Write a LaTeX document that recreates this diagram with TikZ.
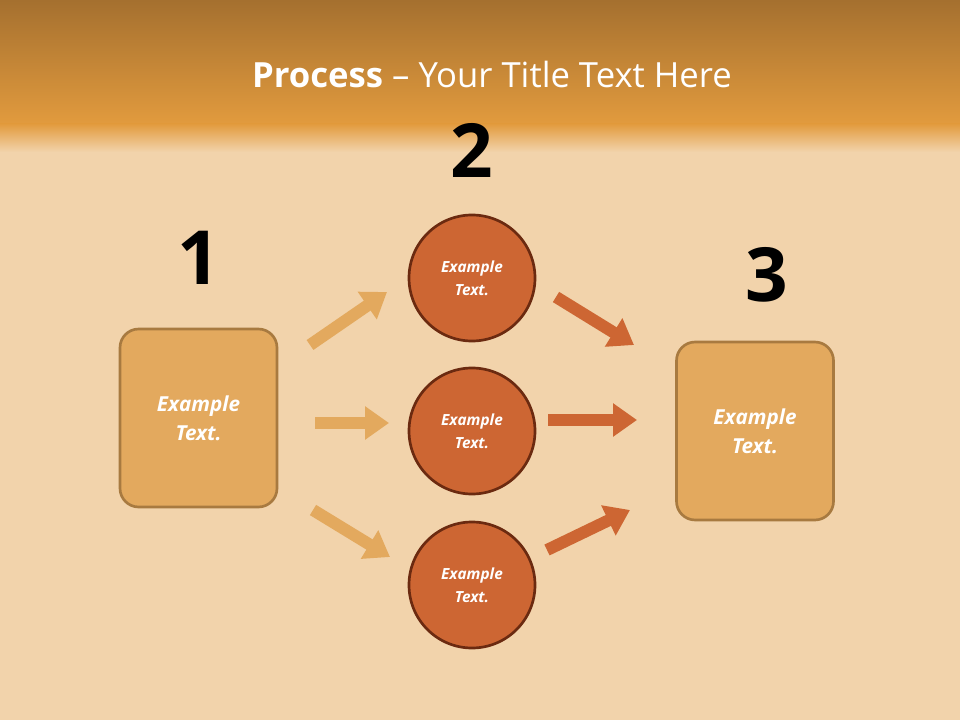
\documentclass[tikz,border=0pt]{standalone}
\usepackage{fontspec}
\setmainfont{Open Sans}
\usetikzlibrary{arrows.meta}
\definecolor{boxfill}{HTML}{E3A95E}
\definecolor{boxline}{HTML}{A87A40}
\definecolor{circfill}{HTML}{CD6633}
\definecolor{circline}{HTML}{6B2A10}
\definecolor{bgtop}{HTML}{A5702F}
\definecolor{bgmid}{HTML}{E29B3E}
\definecolor{bgwood}{HTML}{F2D3AB}
\begin{document}
\begin{tikzpicture}[x=0.75pt,y=-0.75pt,
  box/.style={draw=boxline,line width=2pt,fill=boxfill,rounded corners=14pt,minimum width=157*0.75pt,minimum height=178*0.75pt,text=white,font=\bfseries\itshape\fontsize{15.5}{21.5}\selectfont,align=center},
  circ/.style={circle,draw=circline,line width=2pt,fill=circfill,minimum size=126*0.75pt,text=white,font=\bfseries\itshape\fontsize{11.5}{17}\selectfont,align=center},
  num/.style={font=\bfseries\fontsize{56}{60}\selectfont,text=black},
  arr/.style={line width=9pt,-{Triangle[length=18pt,width=24pt]}},
  larr/.style={arr,draw=boxfill},
  rarr/.style={arr,draw=circfill}]
\useasboundingbox (0,0) rectangle (960,720);
\fill[bgwood] (0,0) rectangle (960,720);
\shade[top color=bgtop,bottom color=bgmid] (0,0) rectangle (960,125);
\shade[top color=bgmid,bottom color=bgwood] (0,124) rectangle (960,152);
\node[text=white,font=\fontsize{26}{30}\selectfont] (title) at (492,75) {\textbf{Process} – Your Title Text Here};
\node[num] (n1) at (199,258) {1};
\node[num] (n2) at (472,150) {2};
\node[num] (n3) at (767,275) {3};
\node[box] (L) at (198.5,418) {Example\\Text.};
\node[box] (R) at (755,431) {Example\\Text.};
\node[circ] (c1) at (472,278) {Example\\Text.};
\node[circ] (c2) at (472,431) {Example\\Text.};
\node[circ] (c3) at (472,585) {Example\\Text.};
\coordinate (a1s) at (310,345); \coordinate (a1e) at (387,292);
\coordinate (a2s) at (315,423); \coordinate (a2e) at (389,423);
\coordinate (a3s) at (313,510); \coordinate (a3e) at (390,557);
\coordinate (b1s) at (556,297); \coordinate (b1e) at (634,345);
\coordinate (b2s) at (548,420); \coordinate (b2e) at (637,420);
\coordinate (b3s) at (547,550); \coordinate (b3e) at (630,510);
\draw[larr] (a1s) -- (a1e);
\draw[larr] (a2s) -- (a2e);
\draw[larr] (a3s) -- (a3e);
\draw[rarr] (b1s) -- (b1e);
\draw[rarr] (b2s) -- (b2e);
\draw[rarr] (b3s) -- (b3e);
\end{tikzpicture}
\end{document}
